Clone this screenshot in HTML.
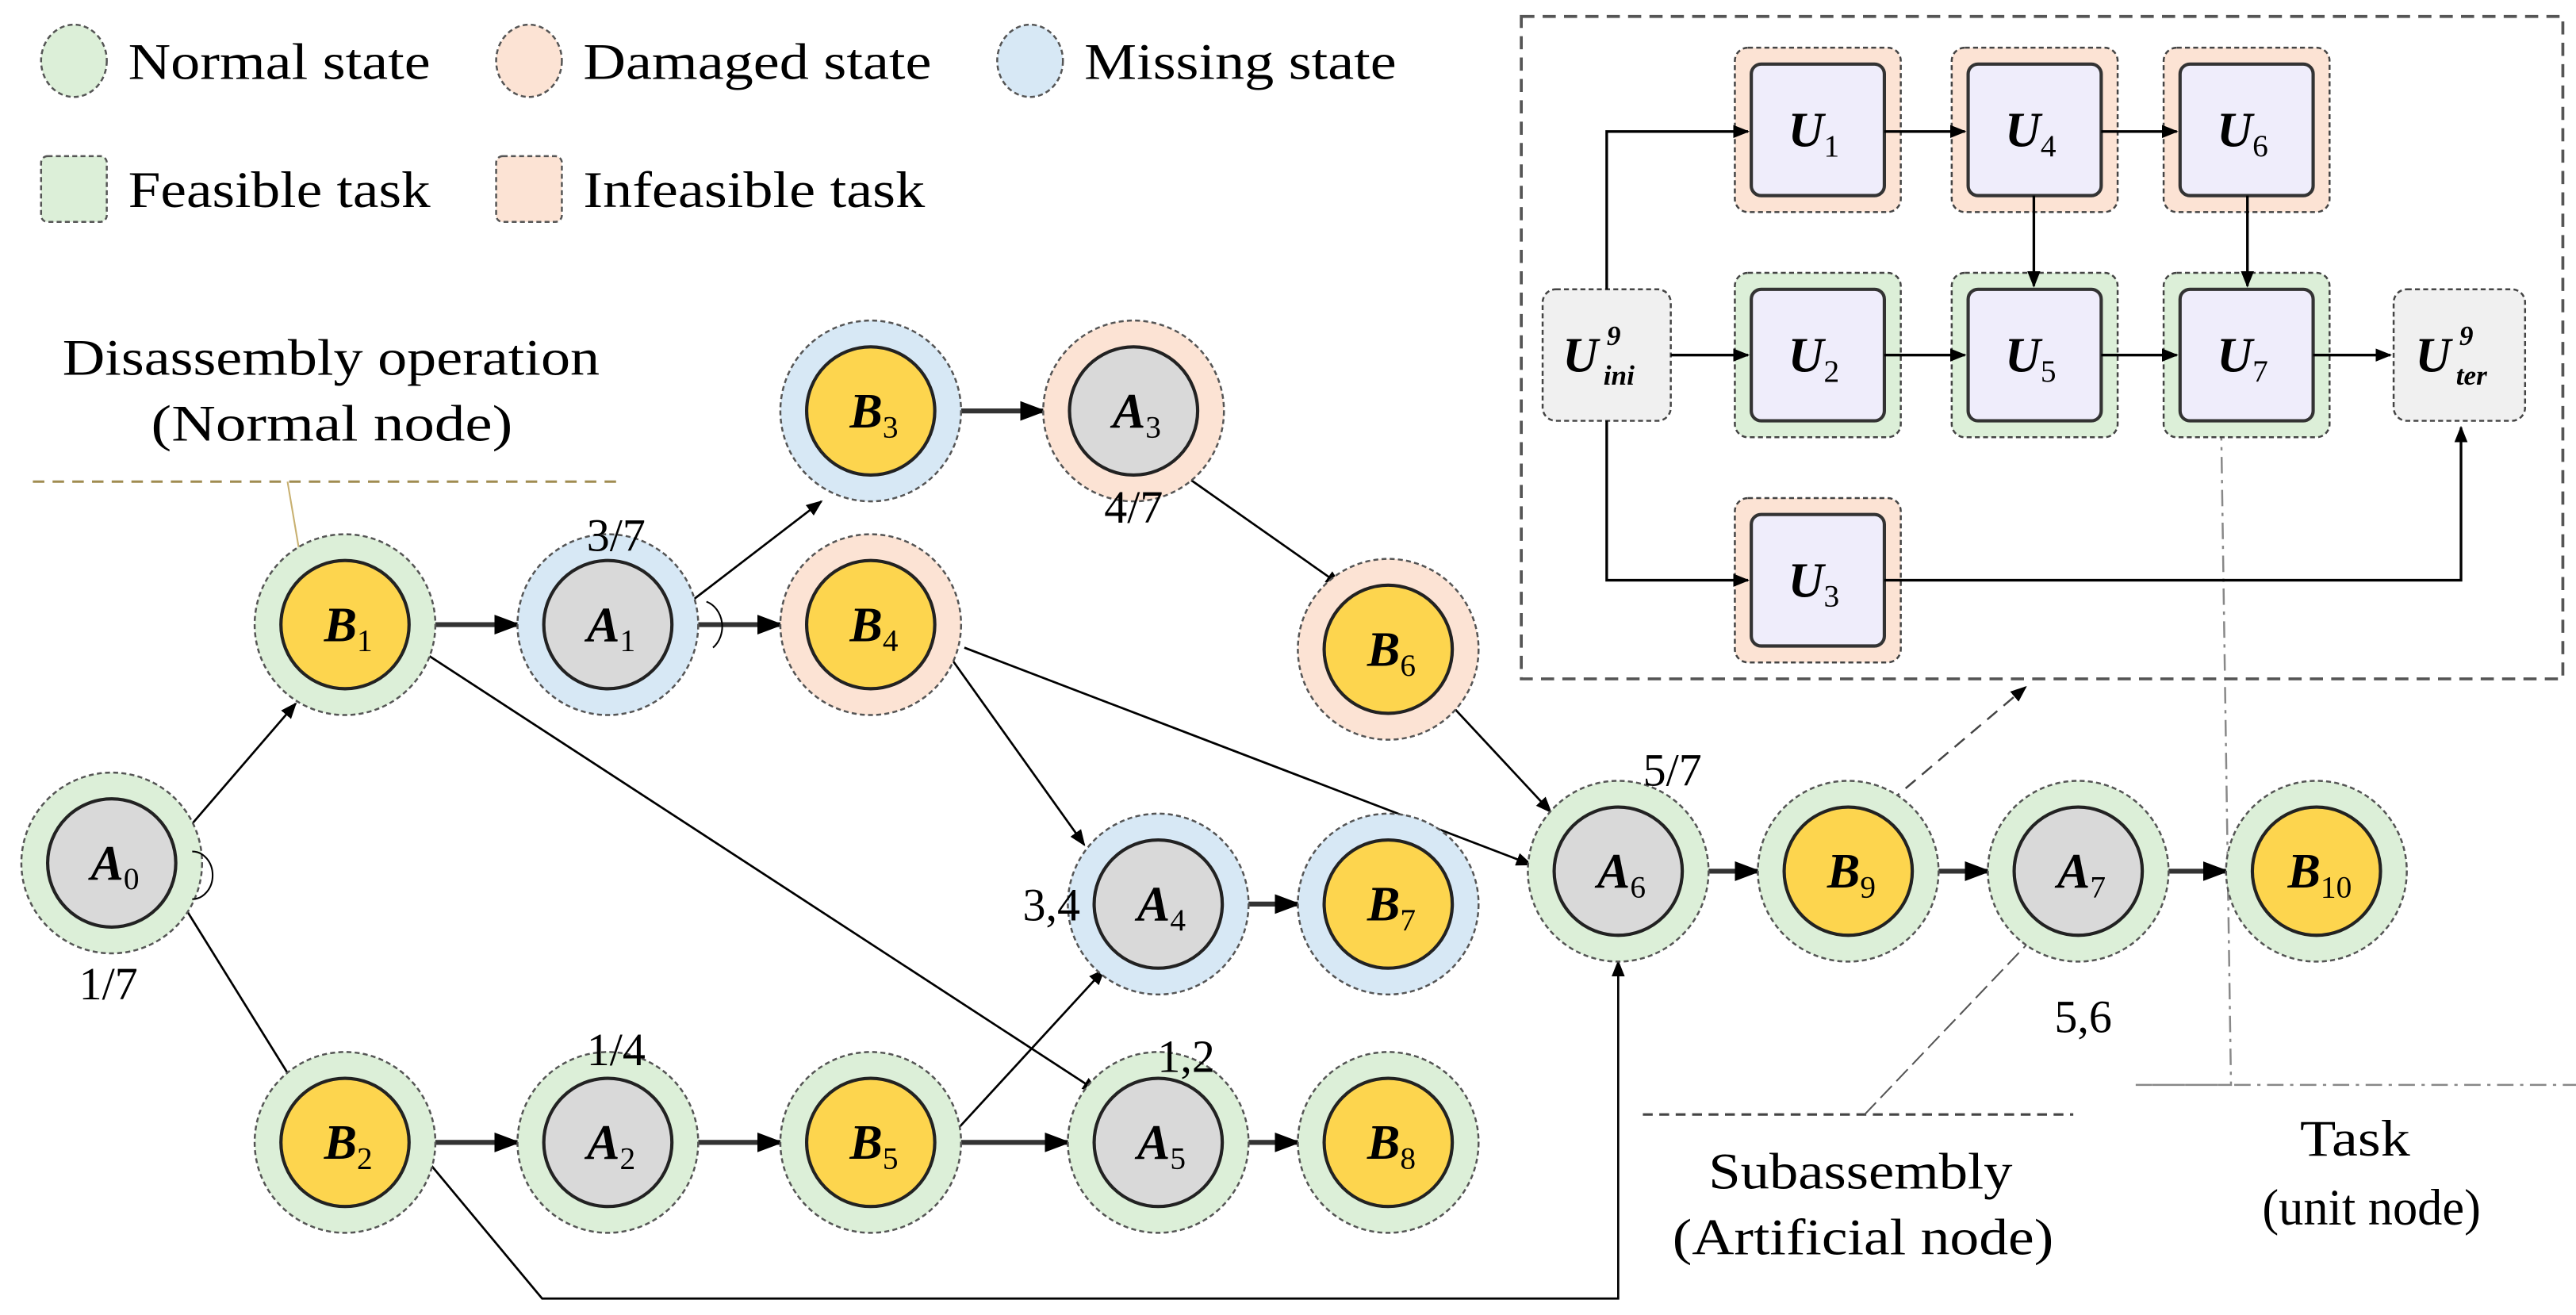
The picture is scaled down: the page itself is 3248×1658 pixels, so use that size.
<!DOCTYPE html>
<html><head><meta charset="utf-8"><style>
html,body{margin:0;padding:0;background:#fff;}
svg{display:block;}
text{font-family:"Liberation Serif",serif;}
.n{font-style:italic;font-weight:bold;font-size:30px;}
.s{font-style:normal;font-weight:normal;font-size:19px;}
.s2{font-style:italic;font-weight:bold;font-size:17px;}
</style></head><body>
<svg width="3248" height="1658" viewBox="0 0 1568 800" preserveAspectRatio="none" xmlns="http://www.w3.org/2000/svg" font-family="Liberation Serif, serif">
<defs>
<marker id="ah" markerWidth="10" markerHeight="8" refX="9" refY="4" orient="auto" markerUnits="userSpaceOnUse" viewBox="0 0 10 8"><path d="M0,0 L10,4 L0,8 z" fill="#000"/></marker>
<marker id="ahb" markerWidth="16" markerHeight="12" refX="15" refY="6" orient="auto" markerUnits="userSpaceOnUse" viewBox="0 0 16 12"><path d="M0,0 L16,6 L0,12 z" fill="#000"/></marker>
</defs>
<g stroke="#555" stroke-dasharray="3,2" stroke-width="1.2">
<ellipse cx="45" cy="37" rx="20" ry="22" fill="#dcefd8"/>
<ellipse cx="322" cy="37" rx="20" ry="22" fill="#fce3d4"/>
<ellipse cx="627" cy="37" rx="20" ry="22" fill="#d7e8f5"/>
<rect x="25" y="95" width="40" height="40" rx="4" fill="#dcefd8"/>
<rect x="302" y="95" width="40" height="40" rx="4" fill="#fce3d4"/>
</g>
<g font-size="31">
<text x="78" y="48" textLength="184" lengthAdjust="spacingAndGlyphs">Normal state</text>
<text x="355" y="48" textLength="212" lengthAdjust="spacingAndGlyphs">Damaged state</text>
<text x="660" y="48" textLength="190" lengthAdjust="spacingAndGlyphs">Missing state</text>
<text x="78" y="126" textLength="184" lengthAdjust="spacingAndGlyphs">Feasible task</text>
<text x="355" y="126" textLength="208" lengthAdjust="spacingAndGlyphs">Infeasible task</text>
<text x="38" y="228" textLength="327" lengthAdjust="spacingAndGlyphs">Disassembly operation</text>
<text x="92" y="268" textLength="220" lengthAdjust="spacingAndGlyphs">(Normal node)</text>
<text x="1040" y="723" textLength="185" lengthAdjust="spacingAndGlyphs">Subassembly</text>
<text x="1018" y="763" textLength="232" lengthAdjust="spacingAndGlyphs">(Artificial node)</text>
<text x="1400" y="703" textLength="67" lengthAdjust="spacingAndGlyphs">Task</text>
<text x="1377" y="745" textLength="133" lengthAdjust="spacingAndGlyphs">(unit node)</text>
</g>
<line x1="20" y1="293" x2="378" y2="293" stroke="#a08c50" stroke-dasharray="7,5" stroke-width="1.5"/>
<line x1="175" y1="293" x2="183" y2="340" stroke="#c8b070" stroke-width="1"/>
<line x1="1000" y1="678" x2="1262" y2="678" stroke="#444" stroke-dasharray="6,4" stroke-width="1.5"/>
<line x1="1135" y1="678" x2="1240" y2="568" stroke="#555" stroke-dasharray="10,4" stroke-width="1"/>
<polyline points="1352,258 1358,660 1300,660 1568,660" fill="none" stroke="#888" stroke-dasharray="10,4,2,4" stroke-width="1.2"/>
<line x1="1150" y1="488" x2="1233" y2="418" stroke="#444" stroke-dasharray="8,5" stroke-width="1.2" marker-end="url(#ah)"/>

<rect x="926" y="10" width="634" height="403" fill="none" stroke="#555" stroke-dasharray="8,5" stroke-width="1.8"/>
<g stroke="#444" stroke-dasharray="3,2" stroke-width="1.2">
<rect x="1056" y="29" width="101" height="100" rx="8" fill="#fce3d4"/>
<rect x="1188" y="29" width="101" height="100" rx="8" fill="#fce3d4"/>
<rect x="1317" y="29" width="101" height="100" rx="8" fill="#fce3d4"/>
<rect x="1056" y="166" width="101" height="100" rx="8" fill="#dcefd8"/>
<rect x="1188" y="166" width="101" height="100" rx="8" fill="#dcefd8"/>
<rect x="1317" y="166" width="101" height="100" rx="8" fill="#dcefd8"/>
<rect x="1056" y="303" width="101" height="100" rx="8" fill="#fce3d4"/>
<rect x="939" y="176" width="78" height="80" rx="8" fill="#f0f0f0"/>
<rect x="1457" y="176" width="80" height="80" rx="8" fill="#f0f0f0"/>
</g>
<g stroke="#333" stroke-width="2" fill="#efedfb">
<rect x="1066" y="39" width="81" height="80" rx="6"/>
<rect x="1198" y="39" width="81" height="80" rx="6"/>
<rect x="1327" y="39" width="81" height="80" rx="6"/>
<rect x="1066" y="176" width="81" height="80" rx="6"/>
<rect x="1198" y="176" width="81" height="80" rx="6"/>
<rect x="1327" y="176" width="81" height="80" rx="6"/>
<rect x="1066" y="313" width="81" height="80" rx="6"/>
</g>
<g class="n" text-anchor="middle">
<text x="1104" y="89">U<tspan class="s" dy="6">1</tspan></text>
<text x="1236" y="89">U<tspan class="s" dy="6">4</tspan></text>
<text x="1365" y="89">U<tspan class="s" dy="6">6</tspan></text>
<text x="1104" y="226">U<tspan class="s" dy="6">2</tspan></text>
<text x="1236" y="226">U<tspan class="s" dy="6">5</tspan></text>
<text x="1365" y="226">U<tspan class="s" dy="6">7</tspan></text>
<text x="1104" y="363">U<tspan class="s" dy="6">3</tspan></text>
</g>
<text x="962" y="226" class="n" text-anchor="middle">U</text>
<text x="978" y="210" class="s2">9</text><text x="976" y="234" class="s2">ini</text>
<text x="1481" y="226" class="n" text-anchor="middle">U</text>
<text x="1497" y="210" class="s2">9</text><text x="1495" y="234" class="s2">ter</text>
<g stroke="#000" stroke-width="1.6" fill="none" marker-end="url(#ah)">
<polyline points="978,176 978,80 1064,80"/>
<polyline points="978,256 978,353 1064,353"/>
<polyline points="1147,353 1498,353 1498,260"/>
<line x1="1017" y1="216" x2="1064" y2="216"/>
<line x1="1147" y1="80" x2="1196" y2="80"/>
<line x1="1279" y1="80" x2="1325" y2="80"/>
<line x1="1147" y1="216" x2="1196" y2="216"/>
<line x1="1279" y1="216" x2="1325" y2="216"/>
<line x1="1408" y1="216" x2="1455" y2="216"/>
<line x1="1238" y1="119" x2="1238" y2="174"/>
<line x1="1368" y1="119" x2="1368" y2="174"/>
</g>

<g stroke="#000" stroke-width="1.3" fill="none" marker-end="url(#ah)">
<line x1="105" y1="515" x2="180" y2="428"/>
<line x1="105" y1="540" x2="182" y2="664"/>
<line x1="410" y1="374" x2="500" y2="305"/>
<line x1="722" y1="290" x2="816" y2="356"/>
<line x1="255" y1="395" x2="668" y2="664"/>
<line x1="575" y1="395" x2="660" y2="514"/>
<line x1="587" y1="394" x2="932" y2="526"/>
<line x1="875" y1="420" x2="944" y2="494"/>
<line x1="580" y1="690" x2="672" y2="590"/>
<polyline points="255,700 330,790 985,790 985,585"/>
</g>
<g stroke="#333" stroke-width="3" fill="none" marker-end="url(#ahb)">
<line x1="265" y1="380" x2="316" y2="380"/>
<line x1="425" y1="380" x2="476" y2="380"/>
<line x1="585" y1="250" x2="636" y2="250"/>
<line x1="740" y1="550" x2="791" y2="550"/>
<line x1="265" y1="695" x2="316" y2="695"/>
<line x1="425" y1="695" x2="476" y2="695"/>
<line x1="585" y1="695" x2="651" y2="695"/>
<line x1="760" y1="695" x2="791" y2="695"/>
<line x1="1040" y1="530" x2="1071" y2="530"/>
<line x1="1180" y1="530" x2="1211" y2="530"/>
<line x1="1320" y1="530" x2="1356" y2="530"/>
</g>

<g stroke="#555" stroke-dasharray="3,2" stroke-width="1.2">
<circle cx="68" cy="525" r="55" fill="#dcefd8"/>
<circle cx="210" cy="380" r="55" fill="#dcefd8"/>
<circle cx="210" cy="695" r="55" fill="#dcefd8"/>
<circle cx="370" cy="380" r="55" fill="#d7e8f5"/>
<circle cx="370" cy="695" r="55" fill="#dcefd8"/>
<circle cx="530" cy="250" r="55" fill="#d7e8f5"/>
<circle cx="690" cy="250" r="55" fill="#fce3d4"/>
<circle cx="530" cy="380" r="55" fill="#fce3d4"/>
<circle cx="530" cy="695" r="55" fill="#dcefd8"/>
<circle cx="705" cy="550" r="55" fill="#d7e8f5"/>
<circle cx="845" cy="550" r="55" fill="#d7e8f5"/>
<circle cx="705" cy="695" r="55" fill="#dcefd8"/>
<circle cx="845" cy="695" r="55" fill="#dcefd8"/>
<circle cx="845" cy="395" r="55" fill="#fce3d4"/>
<circle cx="985" cy="530" r="55" fill="#dcefd8"/>
<circle cx="1125" cy="530" r="55" fill="#dcefd8"/>
<circle cx="1265" cy="530" r="55" fill="#dcefd8"/>
<circle cx="1410" cy="530" r="55" fill="#dcefd8"/>
</g>
<path d="M117,518 A12,14 0 0 1 117,547" fill="none" stroke="#000" stroke-width="1"/>
<path d="M430,366 A14,16 0 0 1 434,394" fill="none" stroke="#000" stroke-width="1"/>
<g stroke="#222" stroke-width="2">
<circle cx="68" cy="525" r="39" fill="#d9d9d9"/>
<circle cx="210" cy="380" r="39" fill="#fdd54e"/>
<circle cx="210" cy="695" r="39" fill="#fdd54e"/>
<circle cx="370" cy="380" r="39" fill="#d9d9d9"/>
<circle cx="370" cy="695" r="39" fill="#d9d9d9"/>
<circle cx="530" cy="250" r="39" fill="#fdd54e"/>
<circle cx="690" cy="250" r="39" fill="#d9d9d9"/>
<circle cx="530" cy="380" r="39" fill="#fdd54e"/>
<circle cx="530" cy="695" r="39" fill="#fdd54e"/>
<circle cx="705" cy="550" r="39" fill="#d9d9d9"/>
<circle cx="845" cy="550" r="39" fill="#fdd54e"/>
<circle cx="705" cy="695" r="39" fill="#d9d9d9"/>
<circle cx="845" cy="695" r="39" fill="#fdd54e"/>
<circle cx="845" cy="395" r="39" fill="#fdd54e"/>
<circle cx="985" cy="530" r="39" fill="#d9d9d9"/>
<circle cx="1125" cy="530" r="39" fill="#fdd54e"/>
<circle cx="1265" cy="530" r="39" fill="#d9d9d9"/>
<circle cx="1410" cy="530" r="39" fill="#fdd54e"/>
</g>
<g class="n" text-anchor="middle">
<text x="70" y="535">A<tspan class="s" dy="6">0</tspan></text>
<text x="212" y="390">B<tspan class="s" dy="6">1</tspan></text>
<text x="212" y="705">B<tspan class="s" dy="6">2</tspan></text>
<text x="372" y="390">A<tspan class="s" dy="6">1</tspan></text>
<text x="372" y="705">A<tspan class="s" dy="6">2</tspan></text>
<text x="532" y="260">B<tspan class="s" dy="6">3</tspan></text>
<text x="692" y="260">A<tspan class="s" dy="6">3</tspan></text>
<text x="532" y="390">B<tspan class="s" dy="6">4</tspan></text>
<text x="532" y="705">B<tspan class="s" dy="6">5</tspan></text>
<text x="707" y="560">A<tspan class="s" dy="6">4</tspan></text>
<text x="847" y="560">B<tspan class="s" dy="6">7</tspan></text>
<text x="707" y="705">A<tspan class="s" dy="6">5</tspan></text>
<text x="847" y="705">B<tspan class="s" dy="6">8</tspan></text>
<text x="847" y="405">B<tspan class="s" dy="6">6</tspan></text>
<text x="987" y="540">A<tspan class="s" dy="6">6</tspan></text>
<text x="1127" y="540">B<tspan class="s" dy="6">9</tspan></text>
<text x="1267" y="540">A<tspan class="s" dy="6">7</tspan></text>
<text x="1412" y="540">B<tspan class="s" dy="6">10</tspan></text>
</g>
<g font-size="28" text-anchor="middle">
<text x="66" y="608">1/7</text>
<text x="375" y="335">3/7</text>
<text x="690" y="318">4/7</text>
<text x="375" y="648">1/4</text>
<text x="722" y="652">1,2</text>
<text x="640" y="560">3,4</text>
<text x="1018" y="478">5/7</text>
<text x="1268" y="628">5,6</text>
</g>
</svg>
</body></html>
